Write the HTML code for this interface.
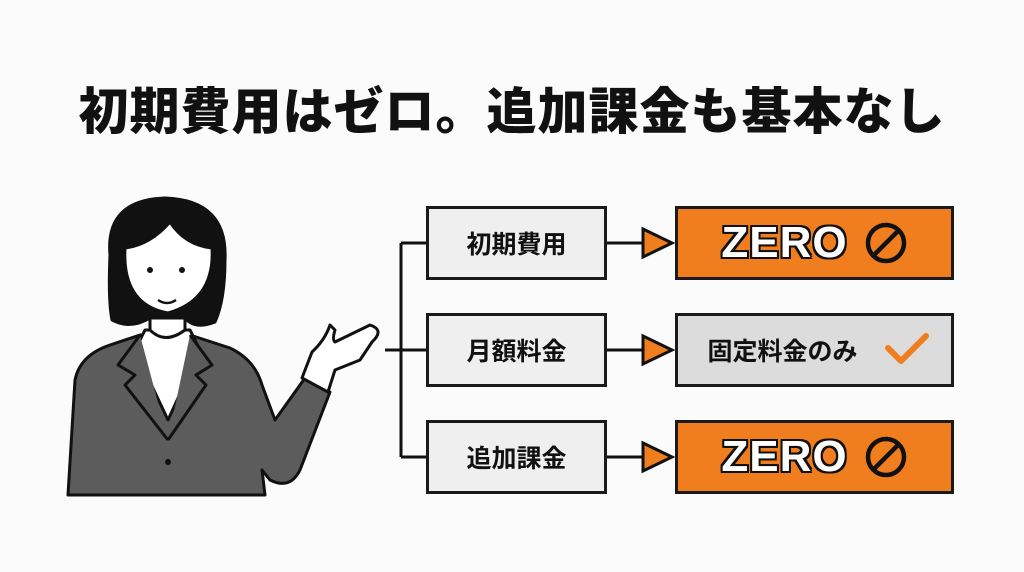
<!DOCTYPE html>
<html><head><meta charset="utf-8"><style>
body{margin:0;width:1024px;height:572px;background:#fbfbfb;position:relative;overflow:hidden;font-family:"Liberation Sans","Noto Sans CJK JP",sans-serif}
.t{position:absolute;left:0;width:1024px;top:82px;text-align:center;font-size:50px;font-weight:900;color:#111;line-height:60px;letter-spacing:1px}
.b{position:absolute;box-sizing:border-box;border:3px solid #1a1a1a;display:flex;align-items:center;justify-content:center;font-weight:700}
.l{left:426px;width:181px;height:74px;background:#efefef;font-size:25px;color:#111}
.r{left:675px;width:279px;height:74px}
.z{background:#f07d1e;color:#fff;font-size:44px;font-weight:900;letter-spacing:1px;text-shadow:2px 0 #111,-2px 0 #111,0 2px #111,0 -2px #111,2px 2px #111,-2px -2px #111,2px -2px #111,-2px 2px #111}
</style></head><body>
<div class="t">初期費用はゼロ。追加課金も基本なし</div>
<svg width="1024" height="572" style="position:absolute;left:0;top:0">
<g stroke="#111" stroke-width="3" fill="none">
<path d="M401 243V457M385 350H426M401 243H426M401 457H426"/>
<path d="M607 243H643M607 350H643M607 457H643"/>
</g>
<g fill="#f07d1e" stroke="#111" stroke-width="3" stroke-linejoin="miter">
<path d="M643 229L672 243L643 257Z"/><path d="M643 336L672 350L643 364Z"/><path d="M643 443L672 457L643 471Z"/>
</g>
<g stroke="#111" stroke-width="3" stroke-linejoin="round">
<path d="M68 495L75 380Q80 355 110 345L140 335L190 335L230 348Q255 360 262 385L275 420L305 378L330 392L300 470Q290 490 270 480L262 470L265 495Z" fill="#5c5c5c"/>
<path d="M145 330L190 330L200 350L168 420L135 350Z" fill="#fff"/>
<path d="M140 335L118 365L135 375L125 385L168 440M190 335L212 365L196 375L206 385L168 440" fill="#5c5c5c"/>
<path d="M150 300L150 330Q165 345 185 330L185 300Z" fill="#fff"/>
<path d="M110 255Q105 200 165 198Q228 200 225 260Q225 300 215 322Q195 330 185 318L150 318Q130 330 112 320Q108 300 110 255Z" fill="#111"/>
<path d="M125 248Q150 245 170 222Q185 245 212 248Q215 300 168 313Q122 305 125 248Z" fill="#fff"/>
<path d="M302 378L312 352Q325 340 330 325L335 330Q332 340 335 342L370 325Q385 330 372 342L360 360L335 370L328 392Z" fill="#fff"/>
</g>
<g fill="#111"><circle cx="150" cy="270" r="3"/><circle cx="182" cy="270" r="3"/><circle cx="168" cy="462" r="3"/></g>
<path d="M158 300Q167 306 176 300" stroke="#111" stroke-width="2.5" fill="none"/>
</svg>
<div class="b l" style="top:206px">初期費用</div>
<div class="b l" style="top:313px">月額料金</div>
<div class="b l" style="top:420px">追加課金</div>
<div class="b r z" style="top:206px;padding-right:60px">ZERO</div>
<div class="b r" style="top:313px;background:#dcdcdc;font-size:25px;color:#111;padding-right:64px">固定料金のみ</div>
<div class="b r z" style="top:420px;padding-right:60px">ZERO</div>
<svg width="1024" height="572" style="position:absolute;left:0;top:0">
<g stroke="#111" stroke-width="4.5" fill="none">
<circle cx="886" cy="243" r="18"/><path d="M873 256L899 230"/>
<circle cx="886" cy="457" r="18"/><path d="M873 470L899 444"/>
</g>
<path d="M888 348L901 361L926 336" stroke="#f07d1e" stroke-width="6" fill="none" stroke-linecap="round" stroke-linejoin="round"/>
</svg>
</body></html>
